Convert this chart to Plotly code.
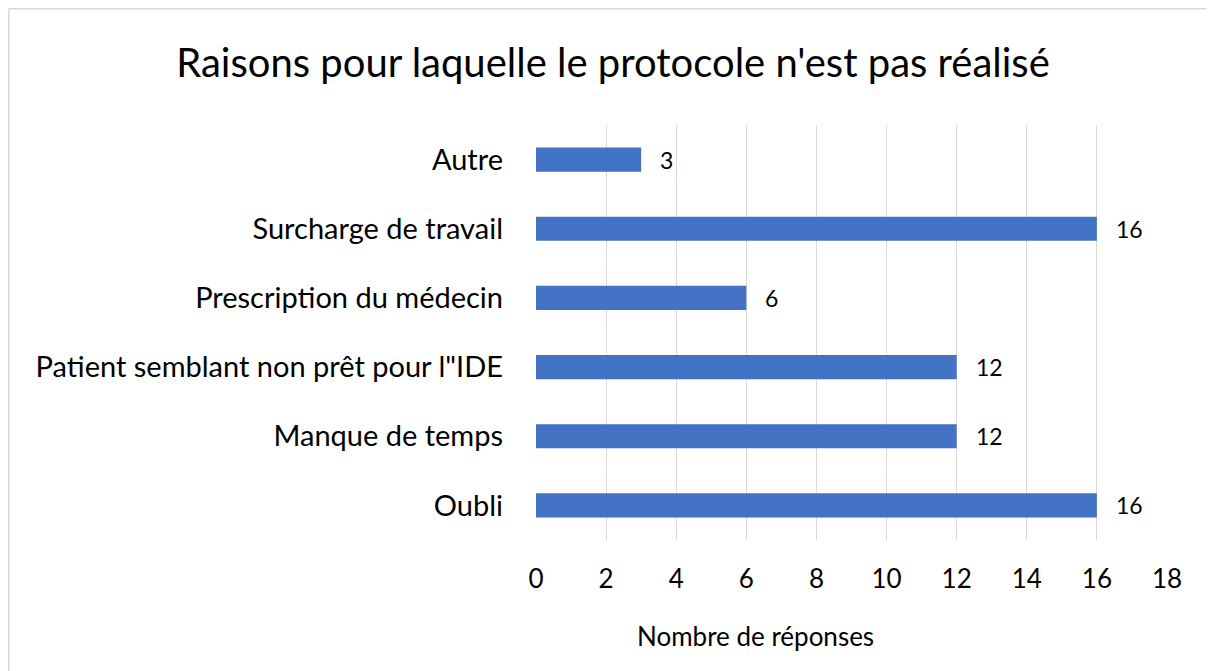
import plotly.graph_objects as go

categories = ["Oubli", "Manque de temps", "Patient semblant non prêt pour l\"IDE",
              "Prescription du médecin", "Surcharge de travail", "Autre"]
values = [16, 12, 12, 6, 16, 3]
tick_vals = [0, 2, 4, 6, 8, 10, 12, 14, 16, 18]

FONT = "Lato, 'Open Sans', sans-serif"

fig = go.Figure(go.Bar(
    x=values, y=categories, orientation="h",
    marker=dict(color="#4472C4", line=dict(width=0)),
    width=0.35,
    hoverinfo="x+y",
))

# figure is placed at (8, 8) in the page; work in figure coordinates
W, H = 1206, 663
L, R, T, B = 528, 1159, 117, 532

for v, c in zip(values, categories):
    fig.add_annotation(x=v, y=c, xref="x", yref="y", text=str(v),
                       showarrow=False, xanchor="left", yanchor="middle",
                       xshift=17, font=dict(size=23, color="#000000", family=FONT))

fig.add_annotation(x=(747 - L) / (R - L), y=-(628 - B) / (B - T), xref="paper", yref="paper",
                   text="Nombre de réponses", showarrow=False,
                   xanchor="center", yanchor="middle",
                   font=dict(size=26, color="#000000", family=FONT))

fig.update_layout(
    width=W, height=H,
    margin=dict(l=L, r=W - R, t=T, b=H - B, autoexpand=False),
    paper_bgcolor="white", plot_bgcolor="white",
    font=dict(family=FONT, color="#000000"),
    title=dict(text="Raisons pour laquelle le protocole n'est pas réalisé",
               x=605 / W, xanchor="center", y=1 - 55 / H, yanchor="middle",
               font=dict(size=40, color="#000000", family=FONT)),
    showlegend=False,
    xaxis=dict(range=[0, 18], tickvals=tick_vals, showgrid=True,
               gridcolor="#d9d9d9", gridwidth=1.3, zeroline=False,
               showline=False, tickfont=dict(size=26, color="#000000"),
               ticklabelstandoff=21),
    yaxis=dict(categoryorder="array", categoryarray=categories, showgrid=False,
               zeroline=False, showline=False, ticklabelstandoff=32,
               tickfont=dict(size=29, color="#000000")),
    shapes=[
        dict(type="line", xref="paper", yref="paper",
             x0=(0.75 - L) / (R - L), x1=(W - L) / (R - L),
             y0=(B - 0.75) / (B - T), y1=(B - 0.75) / (B - T),
             line=dict(color="#d9d9d9", width=1.5)),
        dict(type="line", xref="paper", yref="paper",
             x0=(0.75 - L) / (R - L), x1=(0.75 - L) / (R - L),
             y0=(B - 0.75) / (B - T), y1=(B - H) / (B - T),
             line=dict(color="#d9d9d9", width=1.5)),
    ],
)

fig.write_html("out.html")
